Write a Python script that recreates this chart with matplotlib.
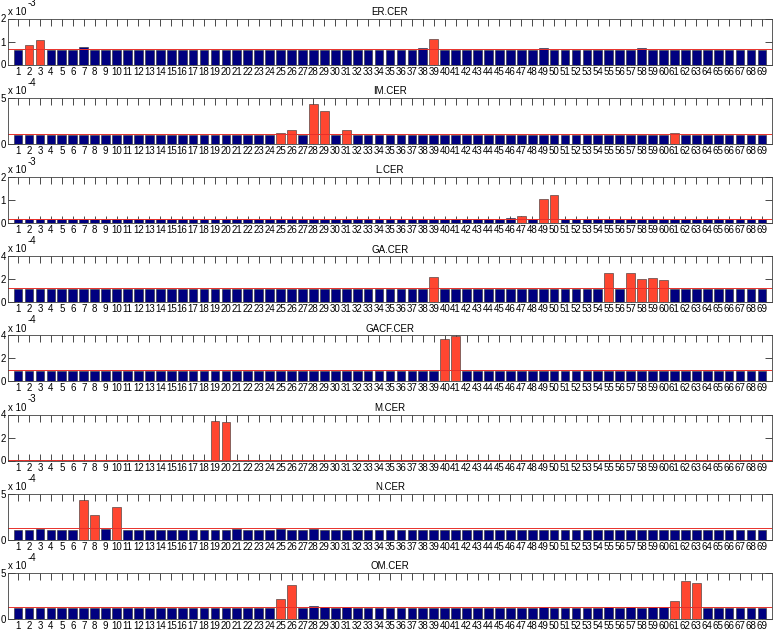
import matplotlib
matplotlib.use('Agg')
import matplotlib.pyplot as plt

plt.rcParams['font.family'] = ['Liberation Sans', 'DejaVu Sans']

x = list(range(1, 70))
names = ['ER.CER', 'IM.CER', 'L.CER', 'GA.CER', 'GACF.CER', 'M.CER', 'N.CER', 'OM.CER']
exponents = ['-3', '-4', '-3', '-4', '-4', '-3', '-4', '-4']
ytops = [2, 5, 2, 4, 4, 4, 5, 5]
yticks_list = [[0, 1, 2], [0, 5], [0, 1, 2], [0, 2, 4], [0, 2, 4], [0, 2, 4], [0, 5], [0, 5]]
# reference level drawn as the red line (same scale as the bars)
levels = [0.66, 1.03, 0.18, 1.23, 0.97, 0.07, 1.25, 1.29]
# bars drawn in red
hot = [[2, 3, 39], [25, 26, 28, 29, 31, 61], [47, 49, 50], [39, 55, 57, 58, 59, 60],
       [40, 41], [19, 20], [7, 8, 10], [25, 26, 61, 62, 63]]

er = [0.63, 0.86, 1.07, 0.63, 0.63, 0.63, 0.745, 0.63, 0.63, 0.63,
      0.63, 0.63, 0.63, 0.63, 0.63, 0.63, 0.63, 0.63, 0.63, 0.63,
      0.63, 0.63, 0.63, 0.63, 0.63, 0.63, 0.63, 0.63, 0.63, 0.63,
      0.63, 0.63, 0.63, 0.63, 0.63, 0.63, 0.63, 0.71, 1.10, 0.63,
      0.63, 0.63, 0.63, 0.63, 0.63, 0.63, 0.63, 0.63, 0.71, 0.63,
      0.63, 0.63, 0.63, 0.63, 0.63, 0.63, 0.63, 0.71, 0.63, 0.63,
      0.63, 0.63, 0.63, 0.63, 0.63, 0.63, 0.63, 0.63, 0.63]
im = [0.92, 0.92, 0.92, 0.92, 0.92, 0.92, 0.92, 0.92, 0.92, 0.92,
      0.92, 0.92, 0.92, 0.92, 0.92, 0.92, 0.92, 0.92, 0.92, 0.92,
      0.92, 0.92, 0.92, 0.92, 1.17, 1.45, 0.92, 4.29, 3.58, 0.92,
      1.45, 0.92, 0.92, 0.92, 0.92, 0.92, 0.92, 0.92, 0.92, 0.92,
      0.92, 0.92, 0.92, 0.92, 0.92, 0.92, 0.92, 0.92, 0.92, 0.92,
      0.92, 0.92, 0.92, 0.92, 0.97, 0.95, 0.97, 0.95, 0.97, 0.97,
      1.12, 0.92, 0.92, 0.92, 0.92, 0.92, 0.92, 0.92, 0.92]
l_cer = [0.16, 0.16, 0.16, 0.16, 0.16, 0.16, 0.16, 0.16, 0.16, 0.16,
         0.16, 0.16, 0.16, 0.16, 0.16, 0.16, 0.16, 0.16, 0.16, 0.16,
         0.16, 0.16, 0.16, 0.16, 0.16, 0.16, 0.16, 0.16, 0.16, 0.16,
         0.16, 0.16, 0.16, 0.16, 0.16, 0.16, 0.16, 0.16, 0.16, 0.16,
         0.16, 0.16, 0.16, 0.16, 0.16, 0.21, 0.28, 0.16, 1.05, 1.20,
         0.16, 0.16, 0.16, 0.16, 0.16, 0.16, 0.16, 0.16, 0.16, 0.16,
         0.16, 0.16, 0.16, 0.16, 0.16, 0.16, 0.16, 0.16, 0.16]
ga = [1.10, 1.15, 1.15, 1.10, 1.10, 1.10, 1.15, 1.10, 1.10, 1.10,
      1.10, 1.10, 1.10, 1.10, 1.10, 1.10, 1.10, 1.10, 1.10, 1.10,
      1.10, 1.10, 1.10, 1.10, 1.15, 1.10, 1.10, 1.15, 1.10, 1.10,
      1.10, 1.10, 1.10, 1.10, 1.10, 1.10, 1.10, 1.15, 2.20, 1.10,
      1.10, 1.10, 1.10, 1.10, 1.10, 1.10, 1.10, 1.10, 1.15, 1.10,
      1.10, 1.10, 1.10, 1.10, 2.50, 1.15, 2.50, 2.05, 2.10, 1.95,
      1.15, 1.10, 1.10, 1.10, 1.10, 1.10, 1.10, 1.10, 1.10]
gacf = [0.87, 0.87, 0.87, 0.87, 0.87, 0.87, 0.87, 0.87, 0.87, 0.87,
        0.87, 0.87, 0.87, 0.87, 0.87, 0.87, 0.87, 0.87, 0.87, 0.87,
        0.87, 0.87, 0.87, 0.87, 0.87, 0.87, 0.87, 0.87, 0.87, 0.87,
        0.87, 0.87, 0.87, 0.87, 0.87, 0.87, 0.87, 0.87, 0.87, 3.72,
        3.95, 0.87, 0.87, 0.87, 0.87, 0.87, 0.87, 0.87, 0.87, 0.87,
        0.87, 0.87, 0.87, 0.87, 0.87, 0.87, 0.87, 0.87, 0.87, 0.87,
        0.87, 0.87, 0.87, 0.87, 0.87, 0.87, 0.87, 0.87, 0.87]
m_cer = [0.05, 0.05, 0.05, 0.05, 0.05, 0.05, 0.05, 0.05, 0.05, 0.05,
         0.05, 0.05, 0.05, 0.05, 0.05, 0.05, 0.05, 0.05, 3.40, 3.33,
         0.05, 0.05, 0.05, 0.05, 0.05, 0.05, 0.05, 0.05, 0.05, 0.05,
         0.05, 0.05, 0.05, 0.05, 0.05, 0.05, 0.05, 0.05, 0.05, 0.05,
         0.05, 0.05, 0.05, 0.05, 0.05, 0.05, 0.05, 0.05, 0.05, 0.05,
         0.05, 0.05, 0.05, 0.05, 0.05, 0.05, 0.05, 0.05, 0.05, 0.05,
         0.05, 0.05, 0.05, 0.05, 0.05, 0.05, 0.05, 0.05, 0.05]
n_cer = [1.04, 1.04, 1.17, 1.04, 1.04, 1.04, 4.33, 2.71, 1.17, 3.54,
         1.04, 1.04, 1.04, 1.04, 1.04, 1.04, 1.04, 1.04, 1.04, 1.04,
         1.17, 1.04, 1.04, 1.04, 1.17, 1.04, 1.04, 1.17, 1.04, 1.04,
         1.04, 1.04, 1.04, 1.04, 1.04, 1.04, 1.04, 1.04, 1.04, 1.04,
         1.04, 1.04, 1.04, 1.04, 1.04, 1.04, 1.04, 1.04, 1.04, 1.04,
         1.04, 1.04, 1.04, 1.04, 1.04, 1.04, 1.04, 1.04, 1.04, 1.04,
         1.04, 1.04, 1.04, 1.04, 1.04, 1.04, 1.04, 1.04, 1.04]
om = [1.14, 1.14, 1.14, 1.14, 1.14, 1.14, 1.14, 1.14, 1.14, 1.14,
      1.14, 1.14, 1.14, 1.14, 1.14, 1.14, 1.14, 1.14, 1.14, 1.14,
      1.14, 1.14, 1.14, 1.14, 2.20, 3.67, 1.14, 1.40, 1.29, 1.14,
      1.29, 1.14, 1.14, 1.14, 1.14, 1.14, 1.14, 1.14, 1.14, 1.14,
      1.14, 1.14, 1.14, 1.14, 1.14, 1.14, 1.14, 1.14, 1.33, 1.14,
      1.14, 1.14, 1.14, 1.14, 1.33, 1.14, 1.33, 1.14, 1.33, 1.33,
      1.97, 4.17, 3.94, 1.14, 1.14, 1.14, 1.14, 1.14, 1.14]

series = [er, im, l_cer, ga, gacf, m_cer, n_cer, om]

NAVY = '#000080'
RED = '#ff4630'
W, H = 774, 634

fig = plt.figure(figsize=(W / 100, H / 100), dpi=100)

for i, vals in enumerate(series):
    top = 18.5 + 79.2 * i
    ax = fig.add_axes([8 / W, 1 - (top + 46) / H, 764 / W, 46 / H])
    colors = [RED if k in hot[i] else NAVY for k in x]
    ax.bar(x, vals, width=0.8, color=colors, edgecolor='#303030', linewidth=0.4)
    ax.axhline(levels[i], color='#e8302a', lw=0.7)
    ax.set_xlim(0.08, 69.92)
    ax.set_ylim(0, ytops[i])
    ax.set_xticks(x)
    ax.set_xticklabels([str(k) for k in x])
    ax.set_yticks(yticks_list[i])
    ax.set_axisbelow(True)
    ax.tick_params(direction='in', length=4.8, width=0.5, top=True, right=True,
                   labelsize=7, pad=1.5)
    ax.tick_params(axis='y', pad=1.5)
    for s in ax.spines.values():
        s.set_linewidth(0.6)
        s.set_color('#404040')
    ax.set_title(names[i], fontsize=7, pad=2.5)
    ax.annotate('x 10', xy=(0, 1), xycoords='axes fraction', xytext=(0, 4.8),
                textcoords='offset points', ha='left', va='center', fontsize=7)
    ax.annotate(exponents[i], xy=(0, 1), xycoords='axes fraction', xytext=(14.2, 10.8),
                textcoords='offset points', ha='left', va='center', fontsize=7)

fig.savefig('out.png', dpi=100)
